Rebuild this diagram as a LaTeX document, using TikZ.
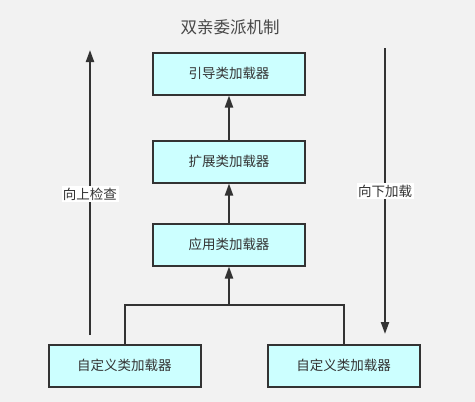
\documentclass[tikz,border=0pt]{standalone}
\usepackage{fontspec}
\setmainfont{Noto Sans CJK SC}
\usetikzlibrary{arrows.meta}
\definecolor{bg}{HTML}{F2F2F2}
\definecolor{boxfill}{HTML}{CCFFFF}
\definecolor{ink}{HTML}{333333}
\begin{document}
\begin{tikzpicture}[x=1pt,y=-1pt,
  loader/.style={draw=ink,line width=2pt,fill=boxfill,minimum width=152pt,minimum height=42pt,inner sep=0pt,font=\fontsize{13.5}{15}\selectfont,text=ink},
  conn/.style={draw=ink,line width=2pt},
  arr/.style={conn,-{Triangle[width=8pt,length=12pt]}},
  lbl/.style={fill=white,inner sep=1.5pt,font=\fontsize{13.5}{15}\selectfont,text=ink}]
\fill[bg] (0,0) rectangle (475,402);
\useasboundingbox (0,0) rectangle (475,402);
\node[font=\fontsize{16.5}{18}\selectfont,text=ink!90] (title) at (230,27) {双亲委派机制};
\node[loader] (boot) at (229,73.5) {引导类加载器};
\node[loader] (ext) at (229,161.5) {扩展类加载器};
\node[loader] (app) at (229,244.5) {应用类加载器};
\node[loader] (c1) at (124.5,365.5) {自定义类加载器};
\node[loader] (c2) at (343.5,365.5) {自定义类加载器};
\draw[arr] (ext.north) -- (boot.south);
\draw[arr] (app.north) -- (ext.south);
\coordinate (j) at (229,305);
\draw[conn] (c1.north) |- (j);
\draw[conn] (c2.north) |- (j);
\draw[arr] (j) -- (app.south);
\coordinate (ua) at (90,335);
\coordinate (ub) at (90,50);
\draw[arr] (ua) -- (ub) node[lbl,pos=0.495] (up) {向上检查};
\coordinate (da) at (385,48);
\coordinate (db) at (385,334);
\draw[arr] (da) -- (db) node[lbl,pos=0.5] (down) {向下加载};
\end{tikzpicture}
\end{document}
